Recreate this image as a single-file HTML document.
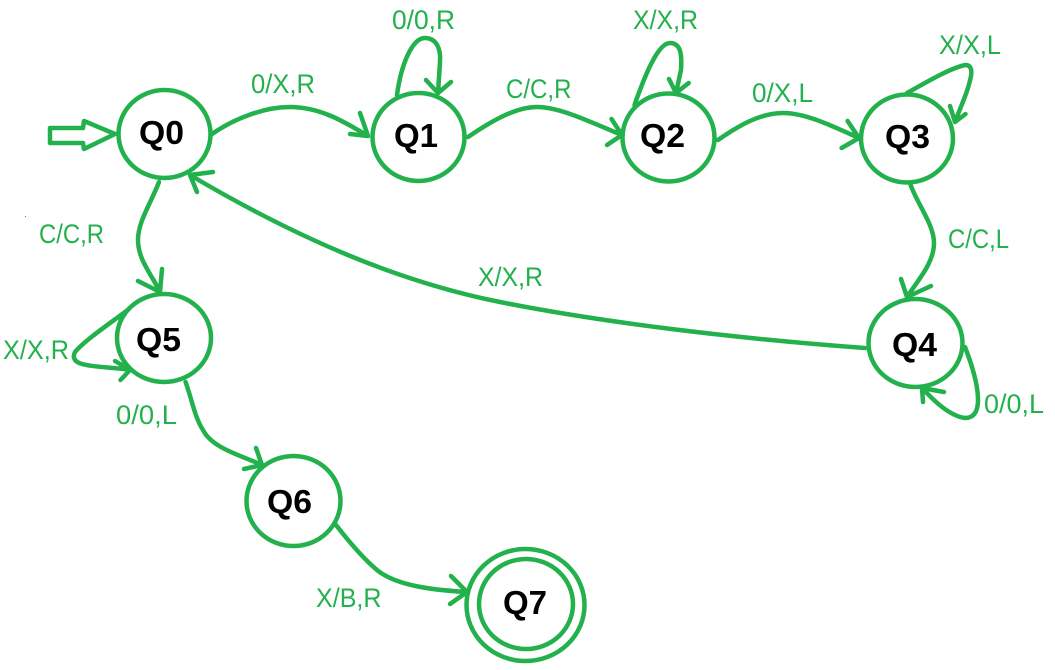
<!DOCTYPE html>
<html><head><meta charset="utf-8"><style>
html,body{margin:0;padding:0;background:#fff;width:1055px;height:670px;overflow:hidden}
svg{display:block}
.s{fill:none;stroke:#22b14c;stroke-width:4.5;stroke-linecap:round;stroke-linejoin:round}
.l{font-family:"Liberation Sans",sans-serif;font-size:27px;fill:#22b14c}
.q{font-family:"Liberation Sans",sans-serif;font-size:33px;font-weight:bold;fill:#000}
</style></head><body>
<svg width="1055" height="670" viewBox="0 0 1055 670" xmlns="http://www.w3.org/2000/svg">
<g class="s">
<ellipse cx="164.5" cy="134" rx="46" ry="44"/>
<ellipse cx="418.5" cy="137" rx="46" ry="44"/>
<ellipse cx="668.5" cy="137.5" rx="46" ry="44"/>
<ellipse cx="907" cy="138.5" rx="46" ry="44"/>
<ellipse cx="915.5" cy="343" rx="47" ry="44"/>
<ellipse cx="164" cy="338" rx="47" ry="44"/>
<ellipse cx="293.5" cy="501" rx="47" ry="45"/>
<ellipse cx="525.5" cy="605" rx="59" ry="56"/>
<ellipse cx="526" cy="604" rx="47" ry="45"/>
<path d="M50,128 H83 L84,121 L115,134 L84,149 L83,143 H50 Z"/>
<path d="M212,134 C235,118 265,107 290,107 C320,107 345,122 368,136 M360,113 L368,136 L350,134"/>
<path d="M397,95 C401,65 412,38 425,38 C436,38 441,48 440,62 L438,93 M426,80 L438,93 L451,82"/>
<path d="M468,137 C490,122 515,107 537,107 C560,107 590,122 622,135 M611.5,119 L622,135 L607,145"/>
<path d="M634.5,105 C645,75 658,43 670,43 C681,43 682,55 681,70 L676,93 M669,79 L676,93 L688.7,83"/>
<path d="M718,140 C738,126 760,113 783,113 C805,113 830,125 859,138 M847.6,121 L859,138 L841.6,148"/>
<path d="M907,93 C925,83 950,68 965.5,65 C971,65 972,70 971,76 C968,92 960,108 955,122 M950,106 L955,122 L965.5,114"/>
<path d="M910.6,185 C918,205 934,225 934,243 C934,263 918,280 907,297 M901,279 L907,297 L931,286"/>
<path d="M965,347 C972,365 978,385 978,400 C978,414 972,418 965,418 C950,416 935,402 922,388 M944,392 L922,388 L923,402"/>
<path d="M865,348 C730,338 600,322 500,302 C400,282 300,240 190,175 M213,172 L190,175 L197,192"/>
<path d="M159,182 C150,205 138,222 138,240 C138,260 152,275 160,292 M162,269 L160,292 L138,281"/>
<path d="M129,309 C112,322 85,340 75,352 C72,358 75,362 82,364 C97,368 115,367 130,370 M115,361 L130,370 L120.5,380"/>
<path d="M185.6,382 C192,400 195,418 203,430 C212,448 240,455 262,465 M256,448 L262,465 L244,469"/>
<path d="M336,525 C350,543 365,560 377,570 C395,585 430,590 467,592 M451,576 L467,592 L450,604"/>
</g>
<rect x="25" y="216" width="1" height="1" fill="#22b14c"/>
<text class="l" x="251" y="93" textLength="64" lengthAdjust="spacingAndGlyphs">0/X,R</text>
<text class="l" x="392" y="29" textLength="63" lengthAdjust="spacingAndGlyphs">0/0,R</text>
<text class="l" x="506" y="98" textLength="65.5" lengthAdjust="spacingAndGlyphs">C/C,R</text>
<text class="l" x="633" y="29" textLength="65" lengthAdjust="spacingAndGlyphs">X/X,R</text>
<text class="l" x="752" y="102" textLength="61" lengthAdjust="spacingAndGlyphs">0/X,L</text>
<text class="l" x="939" y="54" textLength="62" lengthAdjust="spacingAndGlyphs">X/X,L</text>
<text class="l" x="948" y="248" textLength="61" lengthAdjust="spacingAndGlyphs">C/C,L</text>
<text class="l" x="478" y="286" textLength="65" lengthAdjust="spacingAndGlyphs">X/X,R</text>
<text class="l" x="39" y="243" textLength="65" lengthAdjust="spacingAndGlyphs">C/C,R</text>
<text class="l" x="3" y="359" textLength="66" lengthAdjust="spacingAndGlyphs">X/X,R</text>
<text class="l" x="116" y="424" textLength="61" lengthAdjust="spacingAndGlyphs">0/0,L</text>
<text class="l" x="316" y="607" textLength="65.5" lengthAdjust="spacingAndGlyphs">X/B,R</text>
<text class="l" x="984" y="413" textLength="60" lengthAdjust="spacingAndGlyphs">0/0,L</text>
<text class="q" x="139" y="144" textLength="45" lengthAdjust="spacingAndGlyphs">Q0</text>
<text class="q" x="394" y="147" textLength="44" lengthAdjust="spacingAndGlyphs">Q1</text>
<text class="q" x="640" y="147" textLength="45" lengthAdjust="spacingAndGlyphs">Q2</text>
<text class="q" x="885" y="148" textLength="45" lengthAdjust="spacingAndGlyphs">Q3</text>
<text class="q" x="892" y="356" textLength="45" lengthAdjust="spacingAndGlyphs">Q4</text>
<text class="q" x="136" y="351" textLength="45" lengthAdjust="spacingAndGlyphs">Q5</text>
<text class="q" x="267" y="513" textLength="45" lengthAdjust="spacingAndGlyphs">Q6</text>
<text class="q" x="503" y="614" textLength="44" lengthAdjust="spacingAndGlyphs">Q7</text>
</svg>
</body></html>
